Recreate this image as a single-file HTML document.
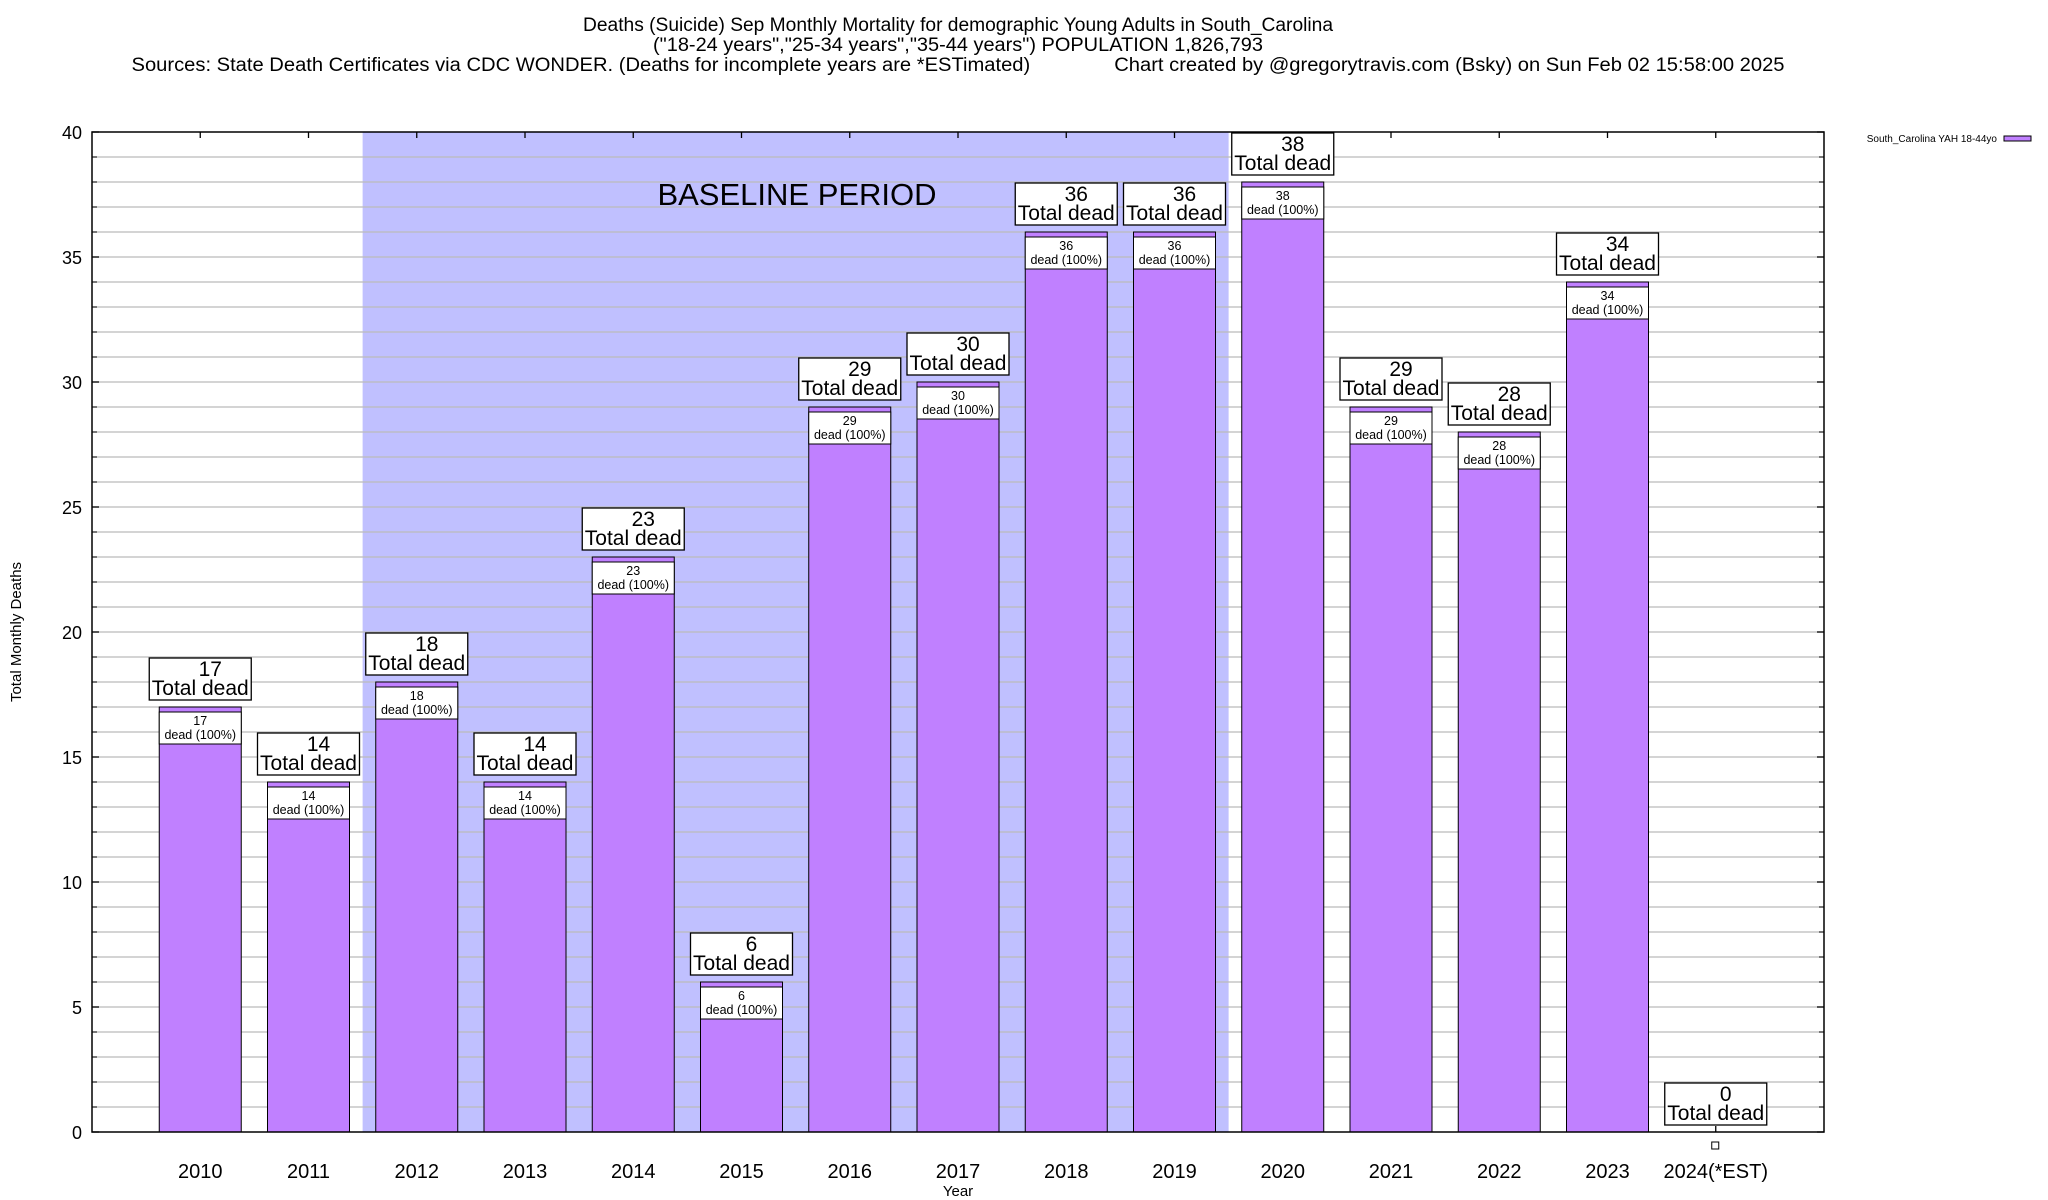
<!DOCTYPE html>
<html><head><meta charset="utf-8"><style>
html,body{margin:0;padding:0;background:#fff;}
svg{display:block;font-family:"Liberation Sans",sans-serif;}
</style></head><body>
<svg id="chart" width="2048" height="1200" viewBox="0 0 2048 1200">
<g font-size="19" text-anchor="middle">
<text x="958" y="31" textLength="750" lengthAdjust="spacingAndGlyphs">Deaths (Suicide) Sep Monthly Mortality for demographic Young Adults in South_Carolina</text>
<text x="958" y="51" textLength="610" lengthAdjust="spacingAndGlyphs">("18-24 years","25-34 years","35-44 years") POPULATION 1,826,793</text>
<text x="958" y="71" textLength="1653" lengthAdjust="spacingAndGlyphs" xml:space="preserve">Sources: State Death Certificates via CDC WONDER. (Deaths for incomplete years are *ESTimated)               Chart created by @gregorytravis.com (Bsky) on Sun Feb 02 15:58:00 2025</text>
</g>
<g id="plot"></g>
</svg>
<script>
const categories=["2010","2011","2012","2013","2014","2015","2016","2017","2018","2019","2020","2021","2022","2023","2024(*EST)"];
const values=[17,14,18,14,23,6,29,30,36,36,38,29,28,34,0];
const yTicks=[0,5,10,15,20,25,30,35,40];
const baseline=[1.5,9.5];
const L=92,R=1824,T=132,B=1132;
const xs=i=>L+(i+1)*(R-L)/16;
const ys=v=>B-v*(B-T)/40;
const NS="http://www.w3.org/2000/svg";
const g=document.getElementById('plot');
function mk(t,a,p){const e=document.createElementNS(NS,t);for(const k in a)e.setAttribute(k,a[k]);(p||g).appendChild(e);return e;}
const sh=mk('rect',{x:L+(baseline[0]+1)*(R-L)/16,y:T,width:(baseline[1]-baseline[0])*(R-L)/16,height:B-T,fill:'#c0c0ff'});


for(let v=1;v<40;v++){const l=mk('line',{x1:L,x2:R,y1:ys(v),y2:ys(v),stroke:'#bbb','stroke-width':1.3});

}
const bt=mk('text',{x:797,y:205,'font-size':31,'text-anchor':'middle'});bt.textContent='BASELINE PERIOD';


yTicks.forEach(v=>{mk('line',{x1:L,x2:L+7,y1:ys(v),y2:ys(v),stroke:'#000','stroke-width':1.3});mk('line',{x1:R,x2:R-7,y1:ys(v),y2:ys(v),stroke:'#000','stroke-width':1.3});
const t=mk('text',{x:82,y:ys(v)+7,'font-size':18,'text-anchor':'end'});t.textContent=v;

});
for(let v=0;v<=40;v++){mk('line',{x1:L,x2:L+5,y1:ys(v),y2:ys(v),stroke:'#000'});mk('line',{x1:R,x2:R-5,y1:ys(v),y2:ys(v),stroke:'#000'});}
categories.forEach((c,i)=>{const x=xs(i);
mk('line',{x1:x,x2:x,y1:T,y2:T+6,stroke:'#000','stroke-width':1.3});mk('line',{x1:x,x2:x,y1:B,y2:B-6,stroke:'#000','stroke-width':1.3});
const t=mk('text',{x:x,y:1178,'font-size':20,'text-anchor':'middle'});t.textContent=c;


const v=values[i],y=ys(v),w=82;
if(v>0){
const bar=mk('rect',{x:x-w/2,y:y,width:w,height:B-y,fill:'#c080ff',stroke:'#000','stroke-width':1});


const ib=mk('rect',{x:x-w/2,y:y+5,width:w,height:32,fill:'#fff',stroke:'#000','stroke-width':1});


const t1=mk('text',{x:x,y:y+18,'font-size':12.5,'text-anchor':'middle'});t1.textContent=v;
const t2=mk('text',{x:x,y:y+32,'font-size':12.5,'text-anchor':'middle'});t2.textContent='dead (100%)';
}else{
mk('rect',{x:x-4,y:B+10,width:7,height:7,fill:'#fff',stroke:'#000'});
}
const ob=mk('rect',{x:x-51,y:y-49,width:102,height:42,fill:'#fff',stroke:'#000','stroke-width':1.3});


const a=mk('text',{x:x+10,y:y-31,'font-size':21,'text-anchor':'middle'});a.textContent=v;
const b=mk('text',{x:x,y:y-12,'font-size':21,'text-anchor':'middle'});b.textContent='Total dead';
});
const fr=mk('rect',{x:L,y:T,width:R-L,height:B-T,fill:'none',stroke:'#000','stroke-width':1.5});


const yt=mk('text',{x:21,y:632,'font-size':15,'text-anchor':'middle',transform:'rotate(-90 21 632)'});yt.textContent='Total Monthly Deaths';


const xt=mk('text',{x:958,y:1196,'font-size':15,'text-anchor':'middle'});xt.textContent='Year';


const lt=mk('text',{x:1997,y:142,'font-size':10,'text-anchor':'end'});lt.textContent='South_Carolina YAH 18-44yo';


const ls=mk('rect',{x:2004,y:136,width:27,height:5,fill:'#c080ff',stroke:'#000'});


</script>
</body></html>
